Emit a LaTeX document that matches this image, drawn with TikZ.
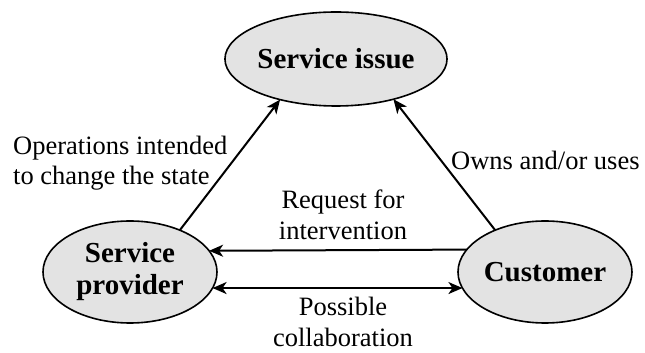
\documentclass[tikz,border=0pt]{standalone}
\usepackage{fontspec}
\setmainfont{Liberation Serif}
\usetikzlibrary{shapes.geometric,arrows.meta}
\begin{document}
\begin{tikzpicture}[x=1pt,y=1pt,
  state/.style={ellipse,draw=black,line width=1.6pt,fill=gray!22,
    inner sep=0pt,outer sep=0pt,
    align=center,font=\fontsize{29}{32}\selectfont\bfseries},
  lbl/.style={inner sep=0pt,font=\fontsize{26.5}{30.5}\selectfont},
  tip/.tip={Stealth[length=14pt,width=12pt,inset=4pt]},
  conn/.style={line width=2pt,-tip},
  conn2/.style={line width=2pt,tip-tip}]
\useasboundingbox (0,0) rectangle (645,353);
% the three parties
\node[state,minimum width=174pt,minimum height=94pt] (issue) at (336,294) {Service issue};
\node[state,minimum width=174pt,minimum height=102pt] (prov) at (130,81) {Service\\provider};
\node[state,minimum width=174pt,minimum height=102pt] (cust) at (545,81) {Customer};
% relations between them
\draw[conn] (prov.40) -- (issue.216);
\draw[conn] (cust.140) -- (issue.-35);
\draw[conn] (cust.164.3) -- (prov.15.7);
\draw[conn2] (prov.-11.3) -- (cust.191.3);
% relation labels
\node[lbl,anchor=west,align=left] (ops) at (13,190) {Operations intended\\to change the state};
\node[lbl,anchor=west] (owns) at (451,193) {Owns and/or uses};
\node[lbl,align=center] (req) at (343,138) {Request for\\intervention};
\node[lbl,align=center] (collab) at (343,31) {Possible\\collaboration};
\end{tikzpicture}
\end{document}
